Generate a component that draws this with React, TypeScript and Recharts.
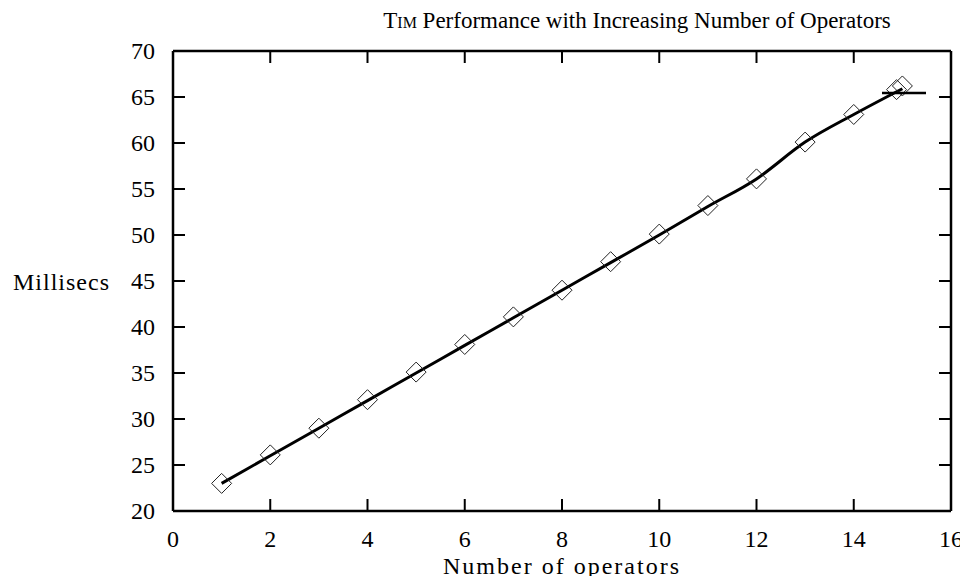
import React from "react"
import { ComposedChart, Line, Scatter, XAxis, YAxis, Legend } from "recharts"

// values
const operators = [1, 2, 3, 4, 5, 6, 7, 8, 9, 10, 11, 12, 13, 14, 15]
const lineMillisecs = [23, 26, 29, 32, 35, 38, 41, 44, 47, 50, 53.1, 56.1, 60.1, 63.1, 65.9]
const pointOperators = [1, 2, 3, 4, 5, 6, 7, 8, 9, 10, 11, 12, 13, 14, 14.88, 15]
const pointMillisecs = [23, 26.1, 29, 32.1, 35.1, 38.1, 41.1, 44, 47.1, 50.1, 53.2, 56.1, 60.1, 63.1, 65.8, 66.2]
const xTicks = [0, 2, 4, 6, 8, 10, 12, 14, 16]
const yTicks = [20, 25, 30, 35, 40, 45, 50, 55, 60, 65, 70]

const lineData = operators.map((x, i) => ({ x, y: lineMillisecs[i] }))
const pointData = pointOperators.map((x, i) => ({ x, y: pointMillisecs[i] }))

const FONT = "'Liberation Serif', 'DejaVu Serif', serif"
const FS = 24
const TICK = 12

const BottomTick = ({ x, y, payload }: any) => (
  <g>
    <line x1={x} y1={y} x2={x} y2={y - TICK} stroke="#000" strokeWidth={2} />
    <text x={x} y={y + 28} textAnchor="middle" dominantBaseline="central" fontFamily={FONT} fontSize={FS} fill="#000">
      {payload.value}
    </text>
  </g>
)

const TopTick = ({ x, y }: any) => (
  <line x1={x} y1={y} x2={x} y2={y + TICK} stroke="#000" strokeWidth={2} />
)

const LeftTick = ({ x, y, payload }: any) => (
  <g>
    <line x1={x} y1={y} x2={x + TICK} y2={y} stroke="#000" strokeWidth={2} />
    <text x={x - 18} y={y} textAnchor="end" dominantBaseline="central" fontFamily={FONT} fontSize={FS} fill="#000">
      {payload.value}
    </text>
  </g>
)

const RightTick = ({ x, y }: any) => (
  <line x1={x} y1={y} x2={x - TICK} y2={y} stroke="#000" strokeWidth={2} />
)

const Diamond = ({ cx, cy }: any) => {
  const r = 10
  return (
    <polygon
      points={`${cx},${cy - r} ${cx + r},${cy} ${cx},${cy + r} ${cx - r},${cy}`}
      fill="none"
      stroke="#222"
      strokeWidth={1}
    />
  )
}

const KeySample = () => (
  <svg width={44} height={6} style={{ display: "block" }}>
    <line x1={0} y1={3} x2={44} y2={3} stroke="#000" strokeWidth={2.5} />
  </svg>
)

export default function App() {
  return (
    <div style={{ position: "relative", margin: -8, width: 968, height: 584, background: "#fff" }}>
      <div
        style={{
          position: "absolute",
          left: 0,
          top: 8,
          width: 1274,
          textAlign: "center",
          fontFamily: FONT,
          fontSize: 23,
          lineHeight: "26px",
          color: "#000",
          whiteSpace: "nowrap",
        }}
      >
        <span style={{ fontVariant: "small-caps" }}>Tim</span> Performance with Increasing Number of Operators
      </div>
      <ComposedChart width={968} height={584} margin={{ top: 50, right: 16, bottom: 0, left: 0 }}>
        <XAxis
          dataKey="x"
          type="number"
          domain={[0, 16]}
          ticks={xTicks}
          height={73}
          tickSize={0}
          tickMargin={0}
          tickLine={false}
          tick={<BottomTick />}
          axisLine={{ stroke: "#000", strokeWidth: 2.5 }}
          label={{
            value: "Number of operators",
            position: "insideBottom",
            offset: 10,
            fontFamily: FONT,
            fontSize: FS,
            letterSpacing: 2,
            fill: "#000",
          }}
        />
        <XAxis
          xAxisId="top"
          dataKey="x"
          orientation="top"
          type="number"
          domain={[0, 16]}
          ticks={xTicks}
          height={1}
          tickSize={0}
          tickMargin={0}
          tickLine={false}
          tick={<TopTick />}
          axisLine={{ stroke: "#000", strokeWidth: 2.5 }}
        />
        <YAxis
          type="number"
          domain={[20, 70]}
          ticks={yTicks}
          width={173}
          tickSize={0}
          tickMargin={0}
          tickLine={false}
          tick={<LeftTick />}
          axisLine={{ stroke: "#000", strokeWidth: 2.5 }}
          label={{
            value: "Millisecs",
            position: "insideLeft",
            offset: 13,
            fontFamily: FONT,
            fontSize: FS,
            letterSpacing: 1,
            fill: "#000",
          }}
        />
        <YAxis
          yAxisId="right"
          orientation="right"
          type="number"
          domain={[20, 70]}
          ticks={yTicks}
          width={1}
          tickSize={0}
          tickMargin={0}
          tickLine={false}
          tick={<RightTick />}
          axisLine={{ stroke: "#000", strokeWidth: 2.5 }}
        />
        <Line
          data={lineData}
          dataKey="y"
          type="monotone"
          stroke="#000"
          strokeWidth={3}
          dot={false}
          isAnimationActive={false}
        />
        <Scatter
          data={pointData}
          dataKey="y"
          xAxisId="top"
          yAxisId="right"
          shape={<Diamond />}
          isAnimationActive={false}
        />
        <Legend
          layout="horizontal"
          verticalAlign="middle"
          align="center"
          content={<KeySample />}
          wrapperStyle={{ position: "absolute", left: 882, top: 90, width: 44, height: 6 }}
        />
      </ComposedChart>
    </div>
  )
}
